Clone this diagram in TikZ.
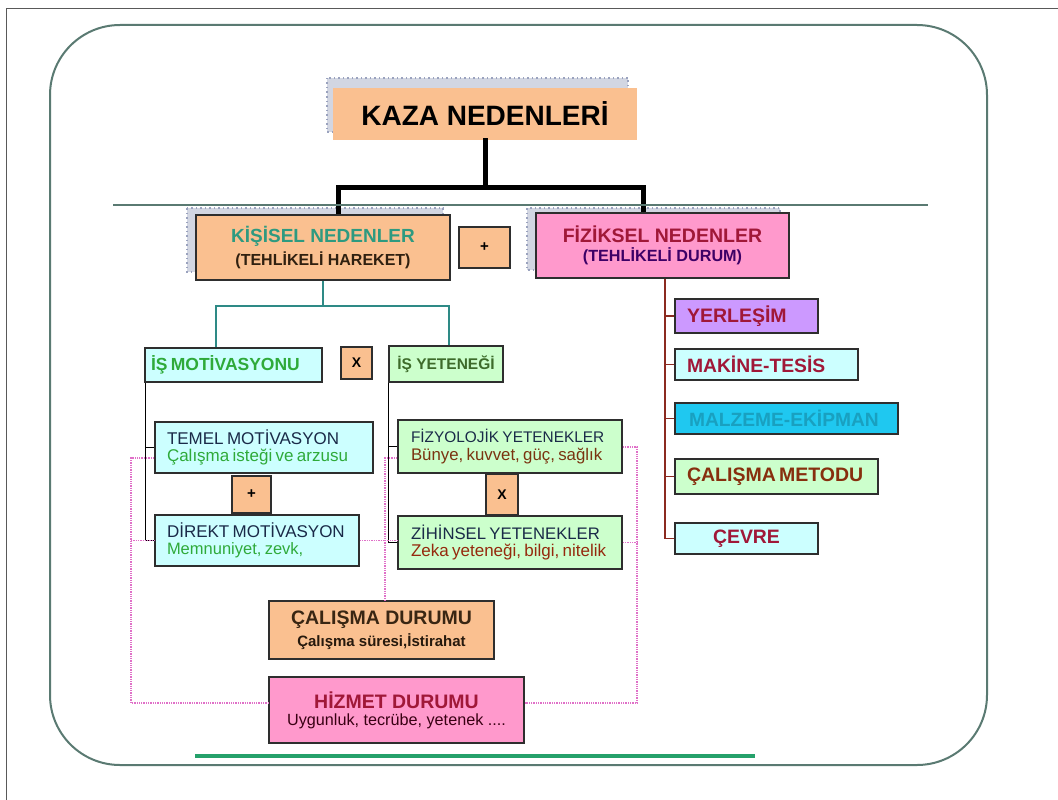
\documentclass[tikz,border=0pt]{standalone}
\usepackage{fontspec}
\setmainfont{Liberation Sans}
\newcommand\fsz[1]{\fontsize{#1pt}{#1pt}\selectfont}
\definecolor{peach}{HTML}{FAC090}
\definecolor{pinkf}{HTML}{FF99CC}
\definecolor{lcyan}{HTML}{CCFFFF}
\definecolor{lgreen}{HTML}{CCFFCC}
\definecolor{lpurple}{HTML}{CC99FF}
\definecolor{cyanf}{HTML}{1FC8F0}
\definecolor{bd}{HTML}{2E2E2E}
\definecolor{frame}{HTML}{5A7A72}
\definecolor{tealln}{HTML}{2E8A86}
\definecolor{tealtx}{HTML}{2E9A80}
\definecolor{greentx}{HTML}{2FAA3A}
\definecolor{dgreentx}{HTML}{3D6B2A}
\definecolor{navytx}{HTML}{1A2A48}
\definecolor{redtx}{HTML}{A01838}
\definecolor{browntx}{HTML}{7A3410}
\definecolor{brownln}{HTML}{8B2A20}
\definecolor{dotpink}{HTML}{E070C8}
\definecolor{hatchf}{HTML}{D2D6E2}
\definecolor{hatchd}{HTML}{9AA2BE}
\tikzset{
  bx/.style={draw=bd, line width=1.6pt, inner ysep=0pt, inner xsep=0pt},
  obx/.style={bx, fill=peach},
  blk/.style={line width=5pt, black, line cap=rect},
  tln/.style={line width=2.6pt, tealln},
  thn/.style={line width=1.4pt, black},
  brn/.style={line width=1.8pt, brownln},
  dot/.style={line width=1.3pt, dotpink, densely dotted},
  hatch/.style={fill=hatchf, draw=hatchd, line width=2pt, dash pattern=on 1.5pt off 3pt},
}
\begin{document}
\begin{tikzpicture}[x=1pt,y=-1pt]
\useasboundingbox (0,0) rectangle (1058,800);
% page frame
\draw[line width=1pt, black!65] (1058,8.5) -- (6.5,8.5) -- (6.5,800);
\draw[line width=2pt, frame, rounded corners=70pt] (50,25) rectangle (987,765);
% shadows
\fill[hatch] (327,78) rectangle (628,132);
\fill[hatch] (187,208) rectangle (443,272);
\fill[hatch] (527,208) rectangle (780,270);
% top level
\node[fill=peach, minimum width=304pt, minimum height=52pt, inner sep=0pt] (kaza) at (485,114) {\fsz{28}\bfseries KAZA NEDENLERİ};
\coordinate (b1) at (338,187);
\coordinate (b2) at (643,187);
\node[obx, minimum width=254pt, minimum height=65pt, align=center] (kis) at (323,247.5)
  {{\fsz{19}\bfseries\color{tealtx}KİŞİSEL NEDENLER}\\[4pt]{\fsz{16}\bfseries\color{black!75!brown}(TEHLİKELİ HAREKET)}};
\node[obx, minimum width=51pt, minimum height=41pt] (plus1) at (484.5,247.5) {\fsz{15}\bfseries +};
\node[bx, fill=pinkf, minimum width=253pt, minimum height=65pt, align=center] (fiz) at (662.5,245.5)
  {{\fsz{19.5}\bfseries\color{redtx}FİZİKSEL NEDENLER}\\[4pt]{\fsz{16.2}\bfseries\color{black!60!red!60!blue}(TEHLİKELİ DURUM)}};
\draw[blk] (kaza.south) -- (kaza.south |- b1);
\draw[blk, line cap=butt] (kis.north -| b1) -- (b1) -- (b2) -- (fiz.north -| b2);
\draw[line width=2.6pt, frame] (113,205) -- (928,205);
% personal tree
\node[bx, fill=lcyan, minimum width=177pt, minimum height=34pt, text width=165pt, inner xsep=6pt, align=left] (ism) at (233.5,365)
  {\fsz{17.5}\bfseries\color{greentx}İŞ MOTİVASYONU};
\node[obx, minimum width=31pt, minimum height=32pt] (x1) at (356.5,363) {\fsz{14}\bfseries X};
\node[bx, fill=lgreen, minimum width=114pt, minimum height=36pt] (isy) at (446,364)
  {\fsz{15.5}\bfseries\color{dgreentx}İŞ YETENEĞİ};
\coordinate (t1) at (216,306);
\coordinate (t2) at (449,306);
\draw[tln] (kis.south) -- (kis.south |- t1);
\draw[tln] (ism.north -| t1) -- (t1) -- (t2) -- (isy.north -| t2);
\node[bx, fill=lcyan, minimum width=218pt, minimum height=51pt, text width=194pt, inner xsep=12pt, align=left] (temel) at (264,447.5)
  {{\fsz{17}\color{navytx}TEMEL MOTİVASYON}\\[4pt]{\fsz{17}\color{greentx}Çalışma isteği ve arzusu}};
\node[obx, minimum width=39pt, minimum height=37pt] (plus2) at (251.5,494.5) {\fsz{15}\bfseries +};
\node[bx, fill=lcyan, minimum width=204pt, minimum height=51pt, text width=180pt, inner xsep=12pt, align=left] (direkt) at (257,540.5)
  {{\fsz{17}\color{navytx}DİREKT MOTİVASYON}\\[4pt]{\fsz{16.5}\color{greentx}Memnuniyet, zevk,}};
\node[bx, fill=lgreen, minimum width=224pt, minimum height=53pt, text width=198pt, inner xsep=13pt, align=left] (fizy) at (510,446.5)
  {{\fsz{15.4}\color{navytx}FİZYOLOJİK YETENEKLER}\\[5pt]{\fsz{16.8}\color{browntx}Bünye, kuvvet, güç, sağlık}};
\node[obx, minimum width=32pt, minimum height=41pt] (x2) at (502,494.5) {\fsz{14}\bfseries X};
\node[bx, fill=lgreen, minimum width=224pt, minimum height=53pt, text width=198pt, inner xsep=13pt, align=left] (zih) at (510,542.5)
  {{\fsz{16.7}\color{navytx}ZİHİNSEL YETENEKLER}\\[4pt]{\fsz{17}\color{browntx!80!red}Zeka yeteneği, bilgi, nitelik}};
\draw[thn] ([xshift=1pt]ism.south west) |- (direkt.west);
\draw[thn] ([xshift=1pt]ism.south west |- temel.west) -- (temel.west);
\draw[thn] (isy.south west) |- (zih.west);
\draw[thn] (isy.south west |- fizy.west) -- (fizy.west);
% bottom boxes
\node[obx, minimum width=225pt, minimum height=58pt, align=center] (cal) at (381.5,630)
  {{\fsz{19.5}\bfseries\color{black!70!brown}ÇALIŞMA DURUMU}\\[4pt]{\fsz{15}\bfseries\color{black!80!brown}Çalışma süresi,İstirahat}};
\node[bx, fill=pinkf, minimum width=255pt, minimum height=66pt, align=center] (hiz) at (396.5,710)
  {{\fsz{19.5}\bfseries\color{redtx}HİZMET DURUMU}\\[5pt]{\fsz{16.2}\color{black!70!purple}Uygunluk, tecrübe, yetenek ....}};
% dotted links
\coordinate (dl1) at (131,458);
\coordinate (dl2) at (131,703);
\coordinate (dm1) at (385,458);
\coordinate (dr1) at (637,447);
\coordinate (dr2) at (637,703);
\draw[dot] (temel.west |- dl1) -- (dl1) -- (dl2) -- (hiz.west |- dl2);
\draw[dot] (dl1 |- direkt.west) -- (direkt.west);
\draw[dot] (fizy.west |- dm1) -- (dm1) -- (dm1 |- cal.north);
\draw[dot] (direkt.east) -- (direkt.east -| zih.west);
\draw[dot] (fizy.east |- dr1) -- (dr1) -- (dr2) -- (hiz.east |- dr2);
\draw[dot] (zih.east) -- (zih.east -| dr1);
% physical tree
\node[bx, fill=lpurple, minimum width=143pt, minimum height=34pt, text width=119pt, inner xsep=12pt, align=left] (yer) at (746.5,316)
  {\fsz{19.5}\bfseries\color{redtx}YERLEŞİM};
\node[bx, fill=lcyan, minimum width=183pt, minimum height=31pt, text width=159pt, inner xsep=12pt, align=left] (mak) at (766.5,364.5)
  {\fsz{19.3}\bfseries\color{redtx}MAKİNE-TESİS};
\node[bx, fill=cyanf, minimum width=223pt, minimum height=31pt, text width=195pt, inner xsep=14pt, align=left] (malz) at (786.5,418.5)
  {\fsz{19.2}\bfseries\color{cyanf!80!black}MALZEME-EKİPMAN};
\node[bx, fill=lgreen, minimum width=203pt, minimum height=35pt, text width=179pt, inner xsep=12pt, align=left] (calm) at (776.5,476.5)
  {\fsz{19.5}\bfseries\color{browntx!90!red}ÇALIŞMA METODU};
\node[bx, fill=lcyan, minimum width=143pt, minimum height=31pt] (cev) at (746.5,538.5)
  {\fsz{19.4}\bfseries\color{redtx}ÇEVRE};
\coordinate (r0) at (665,278);
\draw[brn] (fiz.south -| r0) |- (cev.west);
\draw[brn] (r0 |- yer.west) -- (yer.west);
\draw[brn] (r0 |- mak.west) -- (mak.west);
\draw[brn] (r0 |- malz.west) -- (malz.west);
\draw[brn] (r0 |- calm.west) -- (calm.west);
% bottom line
\draw[line width=4pt, tealln!80!green] (195,756) -- (755,756);
\end{tikzpicture}
\end{document}
